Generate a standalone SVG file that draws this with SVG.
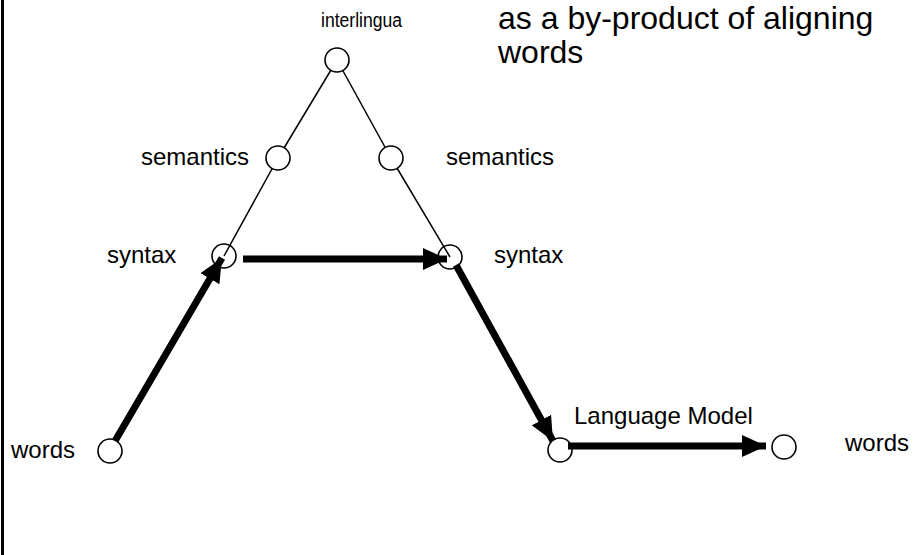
<svg xmlns="http://www.w3.org/2000/svg" width="914" height="555" viewBox="0 0 914 555">
<style>
text{font-family:"Liberation Sans",Arial,sans-serif;fill:#000}
.lbl{font-size:24px}
.small{font-size:20px}
.title{font-size:32px}
.node{fill:#fff;stroke:#000;stroke-width:1.6}
.hollow{fill:none}
.thin{stroke:#000;stroke-width:1.5;fill:none}
.thick{stroke:#000;stroke-width:7;fill:none;marker-end:url(#ah)}
</style>
<defs>
<marker id="ah" markerUnits="userSpaceOnUse" markerWidth="26" markerHeight="22" refX="24" refY="11" orient="auto">
<path d="M0,0 L24,11 L0,22 Z" fill="#000"/>
</marker>
</defs>
<rect width="914" height="555" fill="#fff"/>
<line x1="2.5" y1="0" x2="2.5" y2="555" stroke="#000" stroke-width="3"/>
<g id="connectors">
<line class="thin" x1="337" y1="60" x2="278" y2="158"/>
<line class="thin" x1="278" y1="158" x2="224" y2="256"/>
<line class="thin" x1="337" y1="60" x2="391" y2="158"/>
<line class="thin" x1="391" y1="158" x2="450" y2="257"/>
<line class="thick" x1="115" y1="441" x2="222" y2="258"/>
<line class="thick" x1="243" y1="259" x2="447" y2="259"/>
<line class="thick" x1="456" y1="265" x2="553" y2="441"/>
<line class="thick" x1="568" y1="446" x2="766" y2="446"/>
</g>
<g id="interlingua"><circle class="node" cx="337" cy="60" r="12"/><text class="small" x="321" y="27" textLength="81" lengthAdjust="spacingAndGlyphs">interlingua</text></g>
<g id="semantics-left"><circle class="node" cx="278" cy="158" r="12"/><text class="lbl" x="141" y="165">semantics</text></g>
<g id="semantics-right"><circle class="node" cx="391" cy="158" r="12"/><text class="lbl" x="446" y="165">semantics</text></g>
<g id="syntax-left"><circle class="node hollow" cx="224" cy="256" r="12"/><text class="lbl" x="107" y="263">syntax</text></g>
<g id="syntax-right"><circle class="node hollow" cx="450" cy="257" r="12"/><text class="lbl" x="494" y="263">syntax</text></g>
<g id="words-left"><circle class="node hollow" cx="110" cy="451" r="12"/><text class="lbl" x="11" y="458">words</text></g>
<g id="lm-node"><circle class="node hollow" cx="560" cy="450" r="12"/><text class="lbl" x="574" y="424">Language Model</text></g>
<g id="words-right"><circle class="node" cx="784" cy="447" r="12"/><text class="lbl" x="845" y="451">words</text></g>
<g id="caption"><text class="title" x="498" y="29">as a by-product of aligning</text><text class="title" x="498" y="63">words</text></g>
</svg>
